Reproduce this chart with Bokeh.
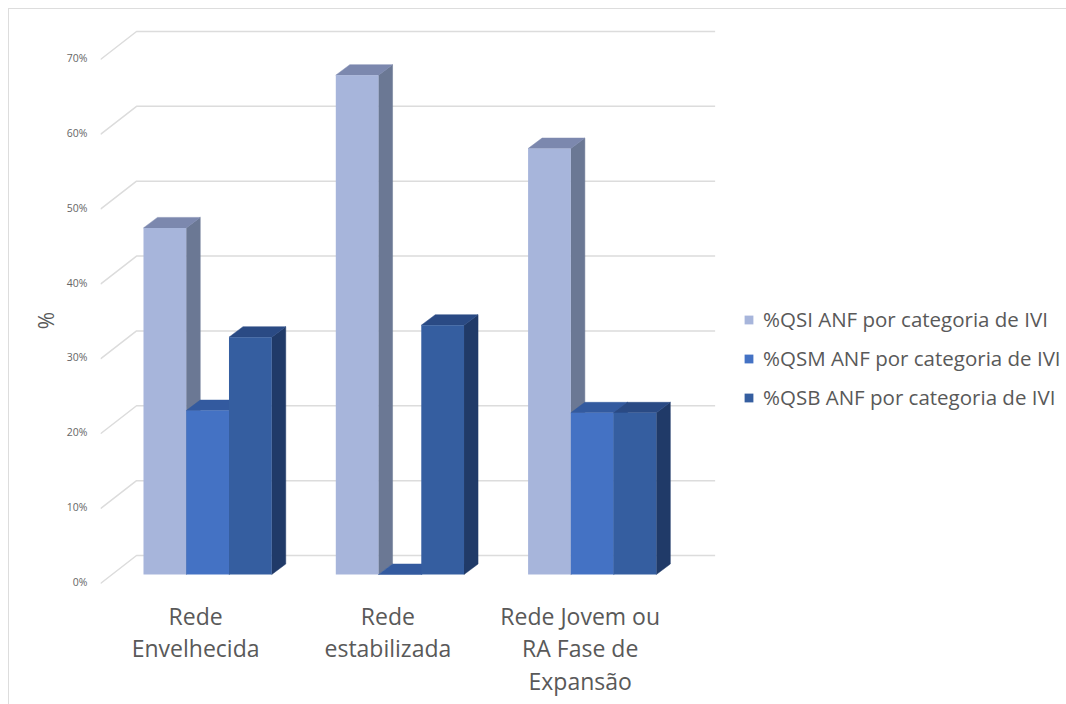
from bokeh.embed import file_html
from bokeh.models import FixedTicker, Legend, LegendItem, LinearAxis, Range1d
from bokeh.plotting import figure
from bokeh.resources import INLINE

# Chart data: share of flow (%) per network category and IVI class
categories = ["Rede\nEnvelhecida", "Rede\nestabilizada", "Rede Jovem ou\nRA Fase de\nExpansão"]
series_names = ["%QSI ANF por categoria de IVI", "%QSM ANF por categoria de IVI", "%QSB ANF por categoria de IVI"]
qsi = [46.3, 66.7, 56.9]
qsm = [21.9, 0.0, 21.6]
qsb = [31.7, 33.3, 21.6]
y_ticks = [0, 10, 20, 30, 40, 50, 60, 70]

front_colors = ["#A7B5DB", "#4472C4", "#355EA0"]
top_colors = ["#7C88AE", "#335A9F", "#2A4A84"]
side_colors = ["#6B7894", "#2F5597", "#203A68"]

# Page layout in pixels
W, H = 1058, 696
ORIGIN = 9
FRAME_L, FRAME_R, FRAME_T, FRAME_B = 100, 1058 + ORIGIN - 1, 20, 620
PX_PER_PCT = 7.486
PX_PER_GROUP = 192.1
BASE_Y = 574.0
FIRST_GROUP_X = 207.0
BAR_W = 42.7 / PX_PER_GROUP
DEPTH_X = 14.0 / PX_PER_GROUP
DEPTH_Y = 10.5 / PX_PER_PCT
# Chart walls sit in front of and behind the bars
WALL_BACK_X, WALL_BACK_DY = 136.0, 19.0
WALL_FRONT_X, WALL_FRONT_DY = 100.0, -9.0
GRID_END_X = 714.0


def xdata(px):
    return (px - FIRST_GROUP_X) / PX_PER_GROUP


def ydata(px):
    return (BASE_Y - px) / PX_PER_PCT


p = figure(
    width=W, height=H, output_backend="svg", toolbar_location=None,
    x_range=Range1d(xdata(FRAME_L), xdata(FRAME_R)),
    y_range=Range1d(ydata(FRAME_B), ydata(FRAME_T)),
    min_border_left=FRAME_L - ORIGIN, min_border_right=0,
    min_border_top=FRAME_T - ORIGIN, min_border_bottom=H + ORIGIN - FRAME_B,
    margin=(8, 0, 0, 8),
    styles={"border-left": "1px solid #DDDDDD", "border-top": "1px solid #DDDDDD"},
    x_axis_location=None, y_axis_location=None,
)
p.grid.visible = False
p.outline_line_color = None
p.background_fill_color = "#FFFFFF"

# Tick labels live on the chart's front plane, shifted from the bars' plane
p.extra_y_ranges = {"wall": Range1d(ydata(FRAME_B) + 7.5 / PX_PER_PCT, ydata(FRAME_T) + 7.5 / PX_PER_PCT)}
p.extra_x_ranges = {"labels": Range1d(xdata(FRAME_L) + 12 / PX_PER_GROUP, xdata(FRAME_R) + 12 / PX_PER_GROUP)}

y_axis = LinearAxis(y_range_name="wall", ticker=FixedTicker(ticks=y_ticks),
                    major_label_overrides={v: f"{v}%" for v in y_ticks},
                    axis_line_color=None, major_tick_line_color=None, minor_tick_line_color=None,
                    major_label_standoff=7, major_label_text_font="Open Sans",
                    major_label_text_font_size="10.5px", major_label_text_color="#666666",
                    axis_label="%", axis_label_text_font="Open Sans", axis_label_text_font_size="21px",
                    axis_label_text_font_style="normal", axis_label_text_color="#595959",
                    axis_label_standoff=4)
p.add_layout(y_axis, "left")

x_axis = LinearAxis(x_range_name="labels", ticker=FixedTicker(ticks=list(range(len(categories)))),
                    major_label_overrides={i: c for i, c in enumerate(categories)},
                    axis_line_color=None, major_tick_line_color=None, minor_tick_line_color=None,
                    major_label_standoff=-27, major_label_text_font="Open Sans",
                    major_label_text_font_size="23px", major_label_text_color="#595959",
                    major_label_text_line_height=1.03)
p.add_layout(x_axis, "below")

# Back wall gridlines with their diagonal run along the side wall
grid_xs, grid_ys = [], []
for v in y_ticks:
    back = v + WALL_BACK_DY / PX_PER_PCT
    front = v + WALL_FRONT_DY / PX_PER_PCT
    grid_xs.append([xdata(WALL_FRONT_X), xdata(WALL_BACK_X), xdata(GRID_END_X)])
    grid_ys.append([front, back, back])
p.multi_line(grid_xs, grid_ys, line_color="#DCDCDC", line_width=1.5)

# Bars: side and top faces first, then the front, series by series from the left
legend_items = []
for j, (name, values) in enumerate(zip(series_names, [qsi, qsm, qsb])):
    lefts = [i + (j - 1.5) * BAR_W for i in range(len(values))]
    rights = [x + BAR_W for x in lefts]
    side_xs = [[r, r + DEPTH_X, r + DEPTH_X, r] for r in rights]
    side_ys = [[0, DEPTH_Y, v + DEPTH_Y, v] for v in values]
    top_xs = [[l, r, r + DEPTH_X, l + DEPTH_X] for l, r in zip(lefts, rights)]
    top_ys = [[v, v, v + DEPTH_Y, v + DEPTH_Y] for v in values]
    p.patches(side_xs, side_ys, fill_color=side_colors[j], line_color=side_colors[j], line_width=0.5)
    p.patches(top_xs, top_ys, fill_color=top_colors[j], line_color=top_colors[j], line_width=0.5)
    front = p.vbar(x=[(l + r) / 2 for l, r in zip(lefts, rights)], width=BAR_W, bottom=0, top=values,
                   fill_color=front_colors[j], line_color=None)
    legend_items.append(LegendItem(label=name, renderers=[front]))

legend = Legend(items=legend_items, location=(643, 209), orientation="vertical",
                background_fill_alpha=0, border_line_color=None, padding=0, margin=0,
                glyph_width=11, glyph_height=11, label_standoff=9, spacing=11,
                label_text_font="Open Sans", label_text_font_size="20.5px",
                label_text_color="#595959", label_height=25)
p.add_layout(legend, "center")

open("out.html", "w").write(file_html(p, INLINE))
